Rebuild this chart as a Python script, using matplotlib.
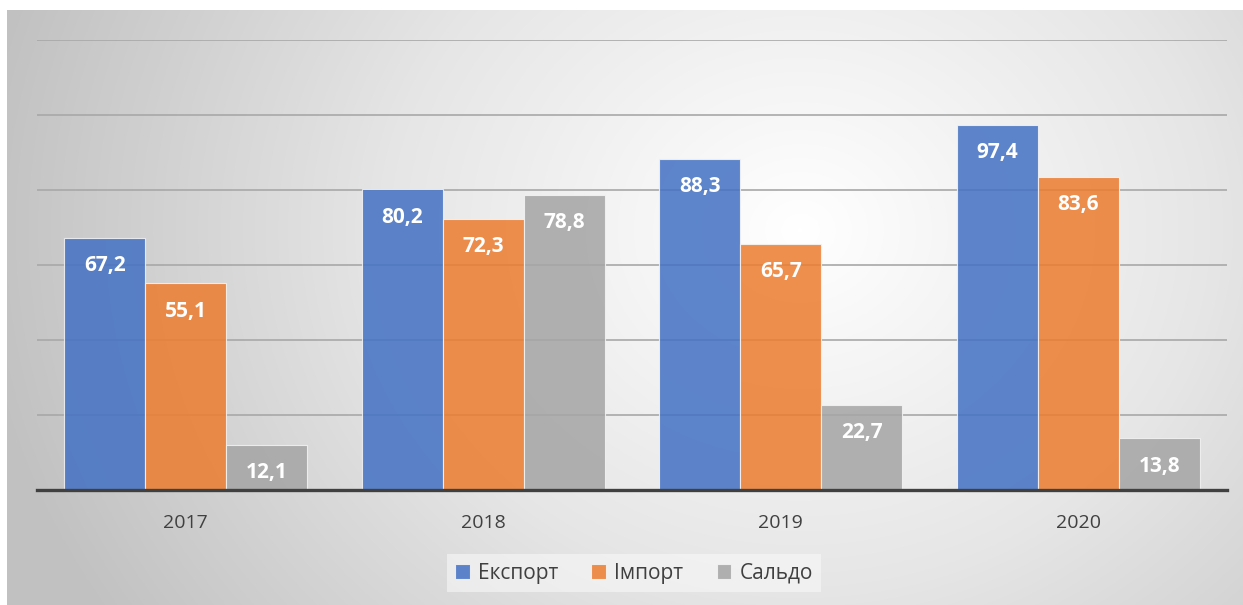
import numpy as np
import matplotlib.pyplot as plt
from matplotlib.colors import LinearSegmentedColormap

# data
years = ['2017', '2018', '2019', '2020']
eksport = [67.2, 80.2, 88.3, 97.4]
import_ = [55.1, 72.3, 65.7, 83.6]
saldo = [12.1, 78.8, 22.7, 13.8]
series = [('Експорт', eksport, '#4472C4'),
          ('Імпорт', import_, '#ED7D31'),
          ('Сальдо', saldo, '#A5A5A5')]

W, H = 1243, 605
fig = plt.figure(figsize=(W / 100, H / 100), dpi=100)
fig.patch.set_facecolor('white')

# radial gradient background (chart area)
bx0, by0 = 7, 10
bg = fig.add_axes([bx0 / W, 0, (W - bx0) / W, (H - by0) / H], zorder=-5)
yy, xx = np.mgrid[by0:H, bx0:W]
r = np.sqrt((xx - 800.0) ** 2 + ((yy - 230.0) * 1.15) ** 2)
r = np.clip(r / 820.0, 0, 1)
cmap = LinearSegmentedColormap.from_list('bg', ['#ffffff', '#e6e6e6', '#c2c2c2'])
bg.imshow(r, cmap=cmap, aspect='auto', vmin=0, vmax=1, interpolation='bilinear')
bg.axis('off')

# main axes
ax = fig.add_axes([37 / W, (H - 490) / H, 1190 / W, 450 / H])
ax.patch.set_alpha(0)
x = np.arange(len(years))
bw = 0.272
for i, (name, vals, col) in enumerate(series):
    pos = x + (i - 1) * bw
    ax.bar(pos, vals, bw, color=col, alpha=0.86, edgecolor='#f4f4f4',
           linewidth=0.8, label=name, zorder=3)
    for px, v in zip(pos, vals):
        ax.annotate(f'{v:.1f}'.replace('.', ','), xy=(px, v), xytext=(0, -20),
                    textcoords='offset points', ha='center', va='center',
                    color='white', fontsize=15, fontweight='bold',
                    family='Open Sans', zorder=4)

ax.set_xlim(-0.5, 3.5)
ax.set_ylim(0, 120)
ax.set_yticks(np.arange(0, 121, 20))
ax.yaxis.grid(True, color='#a8a8a8', linewidth=1.2, zorder=0)
ax.set_axisbelow(True)
ax.tick_params(axis='y', left=False, labelleft=False)
ax.tick_params(axis='x', bottom=False, pad=14)
ax.set_xticks(x)
ax.set_xticklabels(years, fontsize=14, color='#404040', family='Open Sans')
for s in ['top', 'right', 'left']:
    ax.spines[s].set_visible(False)
ax.spines['bottom'].set_color('#404040')
ax.spines['bottom'].set_linewidth(2.4)
ax.spines['bottom'].set_zorder(5)

leg = fig.legend(loc='center', bbox_to_anchor=(634 / W, 1 - 573 / H), ncol=3,
                 frameon=True, fancybox=False, handlelength=0.7, handleheight=0.7,
                 handletextpad=0.4, columnspacing=1.6,
                 prop={'family': 'Open Sans', 'size': 15})
leg.get_frame().set_facecolor('#f8f8f8')
leg.get_frame().set_alpha(0.6)
leg.get_frame().set_edgecolor('none')
for t in leg.get_texts():
    t.set_color('#404040')

fig.savefig('out.png', dpi=100)
